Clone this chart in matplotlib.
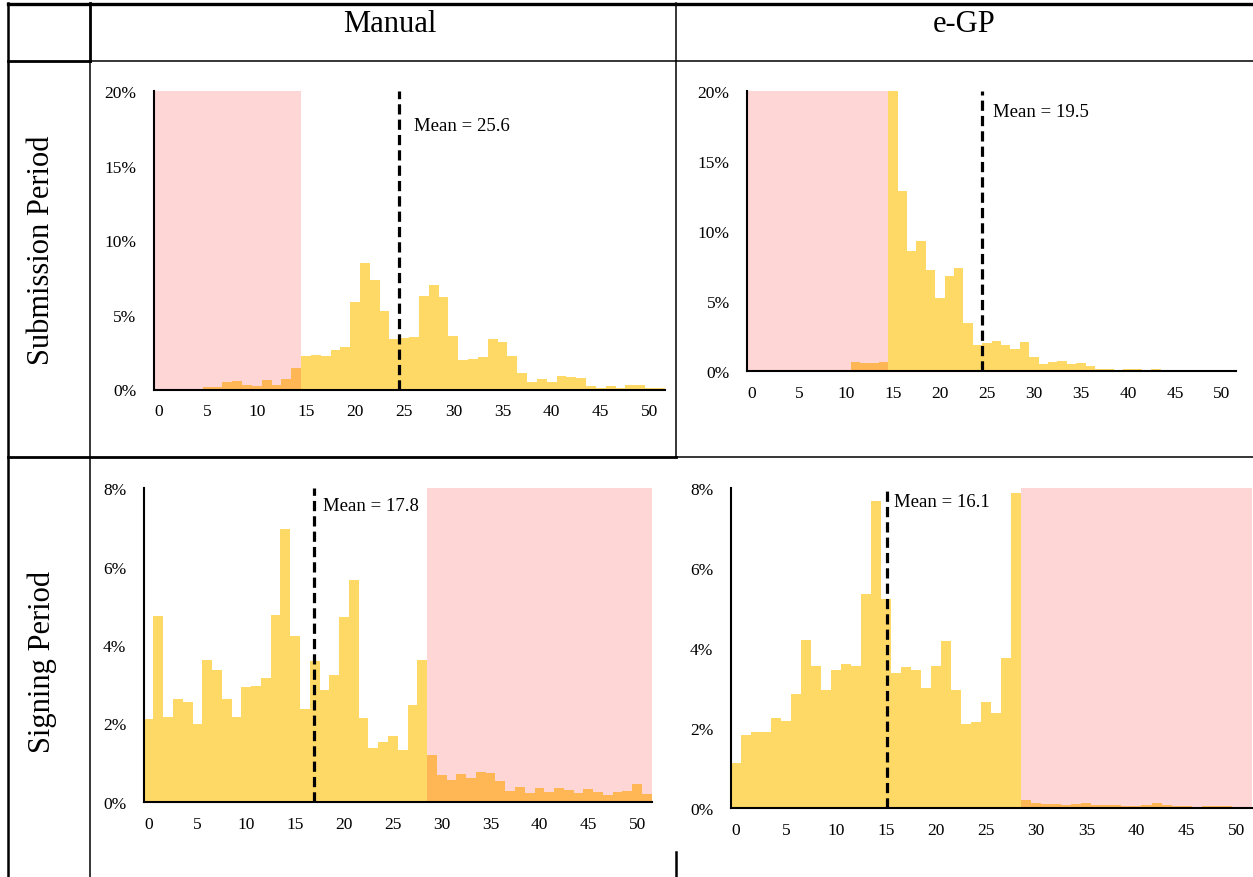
import matplotlib
matplotlib.use("Agg")
import matplotlib.pyplot as plt
from matplotlib.lines import Line2D
from matplotlib.ticker import FuncFormatter

plt.rcParams['font.family'] = ['Liberation Serif', 'DejaVu Serif']

# days (one bar per day)
days = list(range(52))
xtick_vals = [0, 5, 10, 15, 20, 25, 30, 35, 40, 45, 50]

# share of tenders per day, in %
manual_submission = [0, 0, 0, 0, 0, 0.16, 0.18, 0.51, 0.56, 0.33,
                     0.25, 0.62, 0.31, 0.71, 1.47, 2.25, 2.32, 2.23, 2.65, 2.85,
                     5.89, 8.47, 7.34, 5.26, 3.37, 3.48, 3.55, 6.27, 6.98, 6.18,
                     3.59, 2.01, 2.07, 2.19, 3.41, 3.21, 2.25, 1.11, 0.51, 0.71,
                     0.51, 0.89, 0.85, 0.80, 0.25, 0.13, 0.22, 0.11, 0.29, 0.31,
                     0.13, 0.07]
egp_submission = [0, 0, 0, 0, 0, 0, 0, 0, 0, 0,
                  0, 0.64, 0.52, 0.55, 0.62, 20.0, 12.81, 8.52, 9.29, 7.19,
                  5.17, 6.76, 7.31, 3.40, 1.83, 1.98, 2.14, 1.81, 1.55, 2.05,
                  0.98, 0.45, 0.62, 0.69, 0.50, 0.52, 0.31, 0.12, 0.10, 0.08,
                  0.12, 0.10, 0.06, 0.09, 0.04, 0.04, 0.04, 0.04, 0.08, 0.03,
                  0.02, 0.02]
manual_signing = [2.11, 4.73, 2.17, 2.62, 2.54, 1.99, 3.61, 3.36, 2.62, 2.16,
                  2.94, 2.95, 3.16, 4.76, 6.97, 4.24, 2.37, 3.59, 2.85, 3.23,
                  4.71, 5.66, 2.14, 1.37, 1.52, 1.68, 1.32, 2.47, 3.62, 1.20,
                  0.69, 0.56, 0.71, 0.61, 0.76, 0.72, 0.52, 0.27, 0.37, 0.22,
                  0.35, 0.26, 0.35, 0.30, 0.23, 0.33, 0.26, 0.18, 0.26, 0.27,
                  0.46, 0.19]
egp_signing = [1.13, 1.82, 1.90, 1.89, 2.25, 2.17, 2.84, 4.20, 3.56, 2.96,
               3.44, 3.61, 3.55, 5.36, 7.68, 5.23, 3.38, 3.53, 3.45, 3.00,
               3.54, 4.18, 2.96, 2.10, 2.15, 2.65, 2.38, 3.75, 7.87, 0.19,
               0.13, 0.09, 0.09, 0.07, 0.09, 0.12, 0.07, 0.07, 0.06, 0.05,
               0.04, 0.06, 0.12, 0.08, 0.04, 0.05, 0.03, 0.04, 0.04, 0.04,
               0.01, 0.01]

mean_labels = ['Mean = 25.6', 'Mean = 19.5', 'Mean = 17.8', 'Mean = 16.1']
mean_line_x = [24.5, 24.5, 16.9, 15.1]
col_titles = ['Manual', 'e-GP']
row_titles = ['Submission Period', 'Signing Period']

W, H = 1253, 878
fig = plt.figure(figsize=(W / 100, H / 100), dpi=100)


def px_axes(left, right, top, bottom):
    return fig.add_axes([left / W, 1 - bottom / H, (right - left) / W, (bottom - top) / H])


def hline(y, x0, x1, lw):
    fig.add_artist(Line2D([x0 / W, x1 / W], [1 - y / H, 1 - y / H], color='black', lw=lw,
                          transform=fig.transFigure))


def vline(x, y0, y1, lw):
    fig.add_artist(Line2D([x / W, x / W], [1 - y0 / H, 1 - y1 / H], color='black', lw=lw,
                          transform=fig.transFigure))


# table grid
hline(5, 8, 1253, 2.4)
hline(62, 8, 90, 2.0)
hline(62, 90, 1253, 1.1)
hline(458, 8, 676, 2.0)
hline(458, 676, 1253, 1.1)
vline(8, 4, 878, 1.8)
vline(90, 4, 62, 2.0)
vline(90, 62, 878, 1.1)
vline(676, 4, 458, 1.1)
vline(676, 853, 878, 1.8)

fig.text(390 / W, 1 - 25 / H, col_titles[0], ha='center', va='center', fontsize=22)
fig.text(964 / W, 1 - 25 / H, col_titles[1], ha='center', va='center', fontsize=22)
fig.text(42 / W, 1 - 250 / H, row_titles[0], ha='center', va='center', fontsize=22, rotation=90)
fig.text(42 / W, 1 - 662 / H, row_titles[1], ha='center', va='center', fontsize=22, rotation=90)

panels = [
    (manual_submission, (153.6, 664.7, 92, 390.5), 20, [0, 5, 10, 15, 20], (-0.5, 14.5), (26.0, 17.7)),
    (egp_submission, (747.1, 1236, 91.7, 371.7), 20, [0, 5, 10, 15, 20], (-0.5, 14.5), (25.7, 18.5)),
    (manual_signing, (143.7, 651.8, 489.3, 802.7), 8, [0, 2, 4, 6, 8], (28.5, 51.5), (17.8, 7.57)),
    (egp_signing, (730.7, 1251.7, 489.3, 808.7), 8, [0, 2, 4, 6, 8], (28.5, 51.5), (15.75, 7.67)),
]

for i, (vals, box, ymax, yt, span, txt) in enumerate(panels):
    ax = px_axes(*box)
    ax.bar(days, vals, width=1.0, color='#FFD966', linewidth=0, zorder=1)
    ax.axvspan(span[0], span[1], color='red', alpha=0.16, lw=0, zorder=2)
    ax.plot([mean_line_x[i], mean_line_x[i]], [0, ymax], color='black', lw=2.3,
            dashes=(3.2, 1.6), zorder=3)
    ax.text(txt[0], txt[1], mean_labels[i], ha='left', va='center', fontsize=13.5)
    ax.set_xlim(-0.5, 51.5)
    ax.set_ylim(0, ymax)
    ax.set_xticks(xtick_vals)
    ax.set_yticks(yt)
    ax.yaxis.set_major_formatter(FuncFormatter(lambda v, p: '%d%%' % v))
    ax.tick_params(length=0, labelsize=12.5)
    ax.tick_params(axis='y', pad=12.5)
    ax.tick_params(axis='x', pad=10)
    for s in ['top', 'right']:
        ax.spines[s].set_visible(False)
    for s in ['left', 'bottom']:
        ax.spines[s].set_linewidth(1.5)
        ax.spines[s].set_zorder(4)
    ax.set_facecolor('none')

fig.savefig('out.png', dpi=100)
